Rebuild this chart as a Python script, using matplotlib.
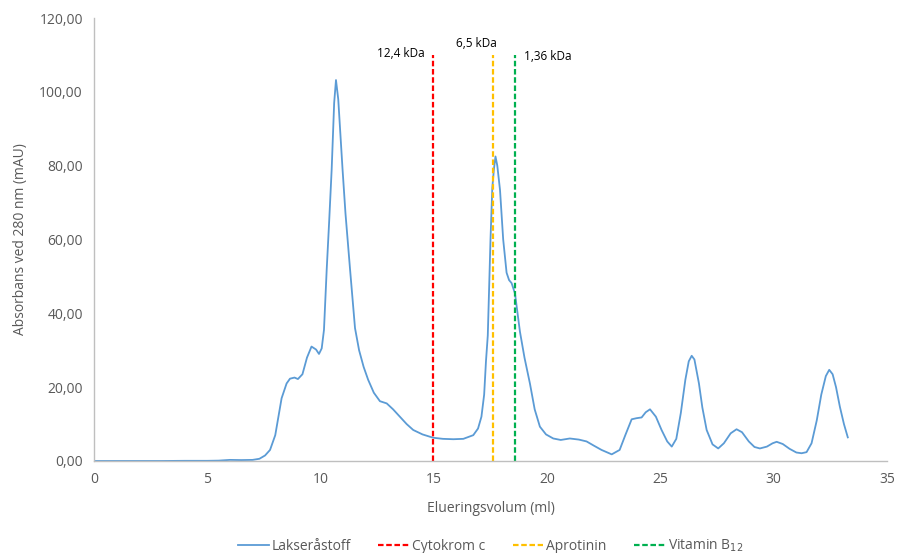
import numpy as np
import matplotlib.pyplot as plt

plt.rcParams['font.family'] = ['Open Sans', 'DejaVu Sans']

# elueringsvolum (ml) og absorbans (mAU) for laksråstoffet
volum = [0.0, 1.0, 2.0, 3.0, 4.0, 5.0, 5.5, 6.0, 6.5, 7.0, 7.3, 7.55, 7.77, 8.0,
         8.28, 8.5, 8.65, 8.85, 9.0, 9.2, 9.4, 9.6, 9.8, 9.93, 10.05, 10.15,
         10.27, 10.38, 10.49, 10.6, 10.68, 10.78, 10.88, 10.97, 11.1, 11.3,
         11.52, 11.7, 11.9, 12.1, 12.35, 12.62, 12.92, 13.2, 13.5, 13.8,
         14.09, 14.5, 14.97, 15.4, 15.86, 16.3, 16.74, 16.95, 17.1, 17.22,
         17.3, 17.38, 17.5, 17.58, 17.65, 17.72, 17.8, 17.92, 18.06, 18.21,
         18.32, 18.43, 18.58, 18.8, 19.0, 19.24, 19.45, 19.68, 19.95, 20.27,
         20.6, 21.0, 21.4, 21.74, 22.05, 22.4, 22.85, 23.2, 23.45, 23.73,
         23.95, 24.17, 24.35, 24.54, 24.8, 25.05, 25.3, 25.5, 25.7, 25.9,
         26.1, 26.25, 26.38, 26.5, 26.7, 26.85, 27.04, 27.3, 27.55, 27.8,
         28.1, 28.36, 28.6, 28.9, 29.15, 29.39, 29.7, 29.95, 30.13, 30.4,
         30.7, 31.0, 31.23, 31.45, 31.67, 31.9, 32.1, 32.3, 32.45, 32.6,
         32.75, 32.92, 33.1, 33.27]
absorbans = [0.0, 0.0, 0.0, 0.0, 0.05, 0.05, 0.1, 0.3, 0.25, 0.3, 0.6, 1.5,
             3.0, 7.0, 17.0, 21.0, 22.3, 22.6, 22.2, 23.5, 28.0, 31.0, 30.2,
             29.0, 30.5, 35.5, 51.8, 65.0, 79.0, 97.0, 103.2, 98.0, 88.0,
             79.0, 67.0, 52.0, 36.0, 30.0, 25.5, 22.0, 18.5, 16.2, 15.6, 14.0,
             12.0, 10.0, 8.4, 7.2, 6.3, 6.0, 5.9, 6.0, 7.0, 8.8, 12.0, 18.0,
             27.0, 34.0, 60.0, 74.0, 79.0, 82.5, 80.0, 73.4, 60.0, 51.0, 49.0,
             48.2, 45.4, 35.0, 28.0, 21.0, 14.0, 9.3, 7.2, 6.1, 5.7, 6.1, 5.8,
             5.3, 4.2, 3.0, 1.8, 3.0, 7.0, 11.3, 11.6, 11.8, 13.2, 14.0, 12.0,
             8.4, 5.3, 3.9, 6.0, 13.0, 22.0, 27.0, 28.5, 27.5, 21.0, 14.5, 8.4,
             4.5, 3.4, 4.8, 7.5, 8.6, 7.8, 5.3, 3.8, 3.4, 3.9, 4.8, 5.2, 4.6,
             3.3, 2.3, 2.1, 2.4, 4.8, 11.0, 18.0, 23.0, 24.7, 23.5, 20.0, 14.7,
             10.0, 6.4]

# markørproteiner: elueringsvolum og molekylvekt
markor_navn = ['Cytokrom c', 'Aprotinin', 'Vitamin B$_{12}$']
markor_volum = [14.95, 17.62, 18.6]
markor_tekst = ['12,4 kDa', '6,5 kDa', '1,36 kDa']
markor_farge = ['#FF0000', '#FFC000', '#00B050']
markor_topp = 110

fig = plt.figure(figsize=(9.02, 5.53), dpi=100)
ax = fig.add_axes([94 / 902, 1 - 461 / 553, 793 / 902, 443 / 553])

ax.plot(volum, absorbans, color='#5B9BD5', lw=1.3, label='Lakseråstoff',
        solid_joinstyle='round')

for navn, v, farge in zip(markor_navn, markor_volum, markor_farge):
    ax.plot([v, v], [0, markor_topp], color=farge, lw=1.6, ls=(0, (2.5, 1.2)),
            label=navn)

tekst = dict(fontsize=8.5, color='#000000')
ax.text(markor_volum[0] - 0.35, 110.5, markor_tekst[0], ha='right', va='center', **tekst)
ax.text(markor_volum[1] - 0.75, 113.0, markor_tekst[1], ha='center', va='center', **tekst)
ax.text(markor_volum[2] + 0.4, 109.5, markor_tekst[2], ha='left', va='center', **tekst)

ax.set_xlim(0, 35)
ax.set_ylim(0, 120)
ax.set_xticks(np.arange(0, 36, 5))
ax.set_yticks(np.arange(0, 121, 20))
ax.set_yticklabels([f'{t:.2f}'.replace('.', ',') for t in np.arange(0, 121, 20)])
ax.tick_params(length=0, labelsize=10, labelcolor='#595959', pad=8)

for side in ['top', 'right']:
    ax.spines[side].set_visible(False)
for side in ['left', 'bottom']:
    ax.spines[side].set_color('#BFBFBF')
    ax.spines[side].set_linewidth(1.0)

ax.set_xlabel('Elueringsvolum (ml)', fontsize=10, color='#595959', labelpad=10)
ax.set_ylabel('Absorbans ved 280 nm (mAU)', fontsize=10, color='#595959', labelpad=8)

ax.legend(loc='upper center', bbox_to_anchor=(0.5, -0.145), ncol=4, frameon=False,
          fontsize=10, labelcolor='#595959', handlelength=2.2, handletextpad=0.2,
          columnspacing=2.0)

fig.savefig('out.png', dpi=100)
